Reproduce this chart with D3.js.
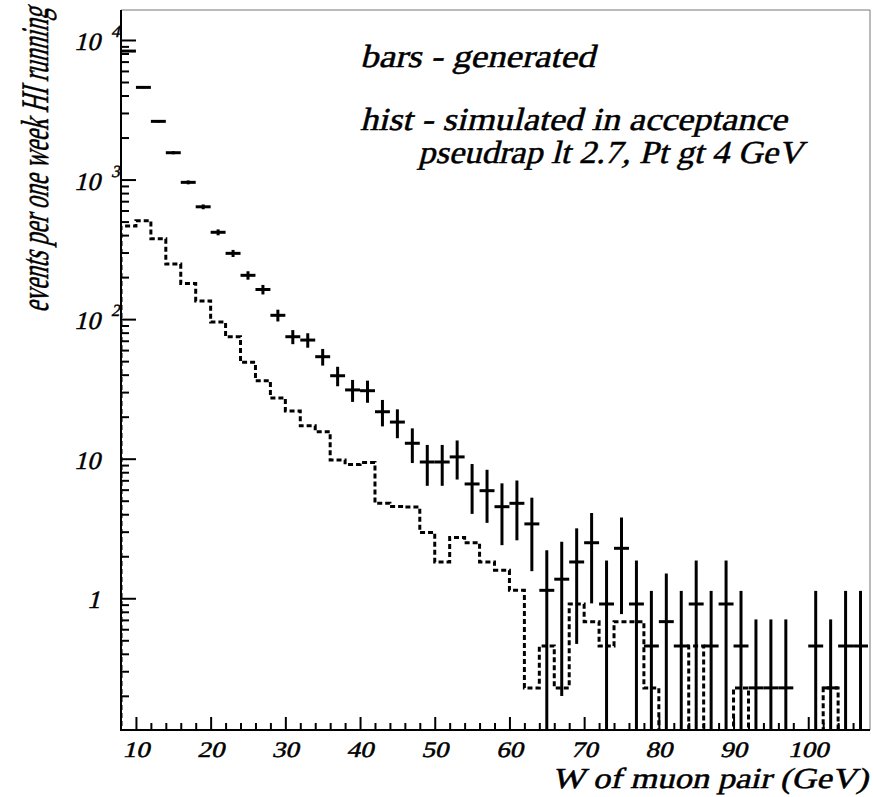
<!DOCTYPE html>
<html>
<head>
<meta charset="utf-8">
<script src="https://cdn.jsdelivr.net/npm/d3@7"></script>
<style>
  body { margin: 0; background: #fff; }
</style>
</head>
<body>
<svg id="chart" width="873" height="797"></svg>
<script>
// W of muon pair, 2 GeV bins from 8 to 108 GeV (bin centres)
const binCenters = [9, 11, 13, 15, 17, 19, 21, 23, 25, 27,
                    29, 31, 33, 35, 37, 39, 41, 43, 45, 47,
                    49, 51, 53, 55, 57, 59, 61, 63, 65, 67,
                    69, 71, 73, 75, 77, 79, 81, 83, 85, 87,
                    89, 91, 93, 95, 97, 99, 101, 103, 105, 107];

// events per one week HI running: generated (points with error bars)
const generated = [8330, 4575, 2612, 1557, 955, 638, 419, 296, 206, 163,
                   106.5, 74.8, 70.8, 53.8, 39.3, 31.1, 30.7, 21.7, 18.3, 12.9,
                   9.47, 9.47, 10.3, 6.59, 5.90, 4.53, 4.79, 3.41, 1.14, 1.37,
                   1.82, 2.50, 0.91, 2.28, 0.91, 0.455, 0.68, 0.455, 0.91, 0.455,
                   0.91, 0.455, 0.228, 0.228, 0.228, 0, 0.455, 0.228, 0.455, 0.455];

// simulated in acceptance (dashed histogram)
const accepted = [464, 507, 377, 248, 180, 135, 95.3, 74.8, 49.0, 36.2,
                  27.2, 22.0, 17.2, 15.6, 9.8, 9.1, 9.4, 4.79, 4.55, 4.5,
                  2.96, 1.82, 2.73, 2.50, 1.82, 1.59, 1.14, 0.228, 0.455, 0.228,
                  0.91, 0.68, 0.455, 0.68, 0.68, 0.228, 0, 0, 0.455, 0,
                  0, 0.228, 0, 0, 0, 0, 0, 0.228, 0, 0];

const binWidth = 2;
const xTickLabels = ["10", "20", "30", "40", "50", "60", "70", "80", "90", "100"];
const xMinorTicks = [12, 14, 16, 18, 22, 24, 26, 28, 32, 34, 36, 38, 42, 44, 46, 48,
                     52, 54, 56, 58, 62, 64, 66, 68, 72, 74, 76, 78, 82, 84, 86, 88,
                     92, 94, 96, 98, 102, 104, 106];
const yTickLabels = [
  { v: 1, base: "1", exp: "" },
  { v: 10, base: "10", exp: "" },
  { v: 100, base: "10", exp: "2" },
  { v: 1000, base: "10", exp: "3" },
  { v: 10000, base: "10", exp: "4" }
];
const yMinorTicks = [0.2, 0.3, 0.4, 0.5, 0.6, 0.7, 0.8, 0.9,
                     2, 3, 4, 5, 6, 7, 8, 9,
                     20, 30, 40, 50, 60, 70, 80, 90,
                     200, 300, 400, 500, 600, 700, 800, 900,
                     2000, 3000, 4000, 5000, 6000, 7000, 8000, 9000];

const pLeft = 121, pRight = 868, pTop = 10, pBottom = 730;

const svg = d3.select("#chart");
const x = d3.scaleLinear().domain([8, 108]).range([pLeft, pRight]);
const y = d3.scaleLog().domain([0.1138, 16400]).range([pBottom, pTop]);

svg.append("defs").append("clipPath").attr("id", "plotArea")
  .append("rect").attr("x", pLeft).attr("y", pTop)
  .attr("width", pRight - pLeft + 1).attr("height", pBottom - pTop);

// frame (top and right edges)
svg.append("path")
  .attr("d", `M${pLeft},${pTop}H${pRight + 2}V${pBottom}`)
  .attr("fill", "none").attr("stroke", "#777").attr("stroke-width", 1);

const plot = svg.append("g").attr("clip-path", "url(#plotArea)");

// dashed histogram: step outline, empty bins sit below the frame
const yOf = v => v > 0 ? y(v) : pBottom + 20;
const steps = [[x(8), pBottom + 20]];
binCenters.forEach((c, i) => {
  steps.push([x(c - binWidth / 2), yOf(accepted[i])]);
  steps.push([x(c + binWidth / 2), yOf(accepted[i])]);
});
steps.push([x(108), pBottom + 20]);
plot.append("path")
  .attr("d", d3.line()(steps))
  .attr("fill", "none").attr("stroke", "#000")
  .attr("stroke-width", 3).attr("stroke-dasharray", "5,3");

// generated: horizontal bin bar and Poisson error bar
const pts = binCenters.map((c, i) => ({ c, v: generated[i] })).filter(d => d.v > 0);
const g = plot.append("g").attr("stroke", "#000").attr("stroke-width", 3);
g.selectAll("line.err").data(pts).join("line").attr("class", "err")
  .attr("x1", d => x(d.c)).attr("x2", d => x(d.c))
  .attr("y1", d => y(d.v + Math.sqrt(d.v)))
  .attr("y2", d => d.v - Math.sqrt(d.v) > 0 ? y(d.v - Math.sqrt(d.v)) : pBottom + 20);
g.selectAll("line.bar").data(pts).join("line").attr("class", "bar")
  .attr("x1", d => x(d.c - binWidth / 2)).attr("x2", d => x(d.c + binWidth / 2))
  .attr("y1", d => y(d.v)).attr("y2", d => y(d.v));

// axes with inward ticks
const xMajor = xTickLabels.map(Number);
function styleAxis(sel) {
  sel.selectAll(".tick line").attr("stroke", "#000").attr("stroke-width", 2);
  sel.selectAll(".tick text").remove();
}
svg.append("g").attr("transform", `translate(0,${pBottom})`)
  .call(d3.axisBottom(x).tickValues(xMinorTicks).tickSize(-7).tickSizeOuter(0).tickFormat(""))
  .call(s => s.select(".domain").remove()).call(styleAxis);
svg.append("g").attr("transform", `translate(0,${pBottom})`)
  .call(d3.axisBottom(x).tickValues(xMajor).tickSize(-13).tickSizeOuter(0).tickFormat(""))
  .call(s => s.select(".domain").remove()).call(styleAxis);
svg.append("g").attr("transform", `translate(${pLeft},0)`)
  .call(d3.axisLeft(y).tickValues(yMinorTicks).tickSize(-8).tickSizeOuter(0).tickFormat(""))
  .call(s => s.select(".domain").remove()).call(styleAxis);
svg.append("g").attr("transform", `translate(${pLeft},0)`)
  .call(d3.axisLeft(y).tickValues(yTickLabels.map(d => d.v)).tickSize(-15).tickSizeOuter(0).tickFormat(""))
  .call(s => s.select(".domain").remove()).call(styleAxis);

// axis lines
svg.append("line").attr("x1", pLeft).attr("x2", pLeft).attr("y1", pTop).attr("y2", pBottom + 1)
  .attr("stroke", "#000").attr("stroke-width", 2);
svg.append("line").attr("x1", pLeft - 1).attr("x2", pRight + 2).attr("y1", pBottom).attr("y2", pBottom)
  .attr("stroke", "#000").attr("stroke-width", 2);

// slanted serif text, stretched along its baseline to a given width
const SLANT = -14;
function label(parent, o) {
  const holder = parent.append("g");
  const t = holder.append("text")
    .style("font-family", "Liberation Serif")
    .style("font-style", "normal")
    .style("font-size", o.size + "px")
    .attr("fill", "#000")
    .attr("stroke", "#000").attr("stroke-width", 0.5)
    .attr("text-anchor", o.anchor || "start")
    .text(o.text);
  const k = o.width ? o.width / t.node().getComputedTextLength() : 1;
  holder.attr("transform",
    `translate(${o.x},${o.y})${o.rotate ? ` rotate(${o.rotate})` : ""} skewX(${SLANT}) scale(${k},1)`);
  return holder;
}

const txt = svg.append("g");

// x tick labels
xTickLabels.forEach(s => label(txt, {
  text: s, x: x(+s), y: 757, size: 22, anchor: "middle", width: 13.5 * s.length
}));

// y tick labels with exponents
yTickLabels.forEach(d => {
  label(txt, { text: d.base, x: 100, y: y(d.v) + 10, size: 25, anchor: "end", width: 13 * d.base.length });
  if (d.exp) label(txt, { text: d.exp, x: 111, y: y(d.v) - 3, size: 17 });
});

// axis titles
label(txt, { text: "W of muon pair (GeV)", x: 868, y: 788, size: 29, anchor: "end", width: 316 });
label(txt, { text: "events per one week HI running", x: 48, y: 8, size: 39,
             anchor: "end", width: 305, rotate: -90 });

// annotations
const notes = [
  { t: "bars - generated", x: 360, y: 67, w: 235 },
  { t: "hist - simulated in acceptance", x: 360, y: 130, w: 427 },
  { t: "pseudrap lt 2.7, Pt gt 4 GeV", x: 418, y: 163, w: 385 }
];
notes.forEach(n => label(txt, { text: n.t, x: n.x, y: n.y, size: 32, width: n.w }));
</script>
</body>
</html>
